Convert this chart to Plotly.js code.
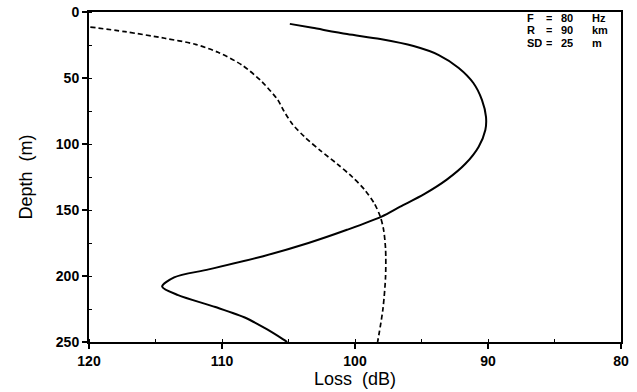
<!DOCTYPE html>
<html>
<head>
<meta charset="utf-8">
<script src="https://cdn.plot.ly/plotly-3.0.1.min.js"></script>
<style>html,body{margin:0;padding:0;background:#fff;}#chart{width:637px;height:392px;}</style>
</head>
<body>
<div id="chart"></div>
<script>
// Solid curve
var solidLoss  = [104.9, 103.2, 100.6, 98.1, 95.6, 93.7, 92.2, 91.1, 90.45, 90.15, 90.2, 90.7, 91.7, 93.1, 94.8, 96.6, 98.0, 100.6, 103.5, 106.9, 111.0, 113.6, 114.5, 113.3, 110.5, 108.2, 106.6, 105.4, 105.1];
var solidDepth = [9, 12, 16.7, 20.5, 25.8, 32.6, 42.4, 53.8, 66.7, 79.5, 89.4, 102, 115, 127, 138, 147.5, 155, 165, 175, 185, 195, 201, 208, 214.5, 223.5, 231.8, 240.5, 248, 250];
// Dashed curve
var dashLoss  = [119.9, 117.3, 114.3, 112.0, 110.3, 108.5, 107.0, 105.8, 105.35, 104.7, 103.75, 102.6, 101.35, 100.2, 99.25, 98.55, 98.1, 97.85, 97.7, 97.7, 97.9, 98.3];
var dashDepth = [11.4, 14.9, 19.9, 24.5, 30.5, 40.2, 52.8, 66.7, 75, 85, 95, 105, 115, 125, 135, 145, 155, 165, 180, 200, 225, 250];
// Annotation text
var paramNames  = ['F', 'R', 'SD'];
var paramValues = ['80', '90', '25'];
var paramUnits  = ['Hz', 'km', 'm'];

var traces = [
  {x: solidLoss, y: solidDepth, mode: 'lines', line: {color: '#000', width: 2, shape: 'spline', smoothing: 0.8}, hoverinfo: 'skip'},
  {x: dashLoss, y: dashDepth, mode: 'lines', line: {color: '#000', width: 1.7, dash: '5px,3px', shape: 'spline', smoothing: 0.8}, hoverinfo: 'skip'}
];

var W = 637, H = 392, L = 89, R = 16, T = 12, B = 50;
var pw = W - L - R, ph = H - T - B;
function px(x){ return (x - L) / pw; }
function py(y){ return 1 - (y - T) / ph; }

var annFont = {family: 'Liberation Sans, Arial, sans-serif', size: 11, color: '#000', weight: 'bold'};
var rowY = [18, 30.5, 43];
var anns = [];
function ann(x, y, txt, anchor) {
  return {xref: 'paper', yref: 'paper', x: px(x), y: py(y), xanchor: anchor, yanchor: 'middle',
          text: txt, showarrow: false, font: annFont, height: 10, borderpad: 0};
}
for (var i = 0; i < paramNames.length; i++) {
  anns.push(ann(526, rowY[i], paramNames[i], 'left'));
  anns.push(ann(549, rowY[i], '=', 'center'));
  anns.push(ann(560, rowY[i], paramValues[i], 'left'));
  anns.push(ann(591, rowY[i], paramUnits[i], 'left'));
}

var tickFont = {family: 'Liberation Sans, Arial, sans-serif', size: 14, color: '#000', weight: 'bold'};
var titleFont = {family: 'Liberation Sans, Arial, sans-serif', size: 18, color: '#000'};

var layout = {
  width: W, height: H,
  margin: {l: L, r: R, t: T, b: B, pad: 0},
  paper_bgcolor: '#fff', plot_bgcolor: '#fff',
  showlegend: false,
  xaxis: {
    range: [120, 80], tickvals: [120, 110, 100, 90, 80], ticktext: ['120', '110', '100', '90', '80'],
    ticks: 'outside', ticklen: 5, tickwidth: 1.5, tickcolor: '#000',
    minor: {dtick: 5, ticks: 'inside', ticklen: 3, tickwidth: 1, tickcolor: '#000', showgrid: false},
    showgrid: false, zeroline: false,
    showline: true, linecolor: '#000', linewidth: 2, mirror: true,
    tickfont: tickFont,
    title: {text: 'Loss  (dB)', font: titleFont, standoff: 2}
  },
  yaxis: {
    range: [250, 0], tickvals: [0, 50, 100, 150, 200, 250], ticktext: ['0', '50', '100', '150', '200', '250'],
    ticks: 'outside', ticklen: 5, tickwidth: 1.5, tickcolor: '#000',
    minor: {dtick: 25, ticks: 'inside', ticklen: 3, tickwidth: 1, tickcolor: '#000', showgrid: false},
    showgrid: false, zeroline: false,
    showline: true, linecolor: '#000', linewidth: 2, mirror: true,
    tickfont: tickFont,
    title: {text: 'Depth  (m)', font: titleFont, standoff: 19}
  },
  annotations: anns
};

Plotly.newPlot('chart', traces, layout, {displayModeBar: false, staticPlot: true});
</script>
</body>
</html>
